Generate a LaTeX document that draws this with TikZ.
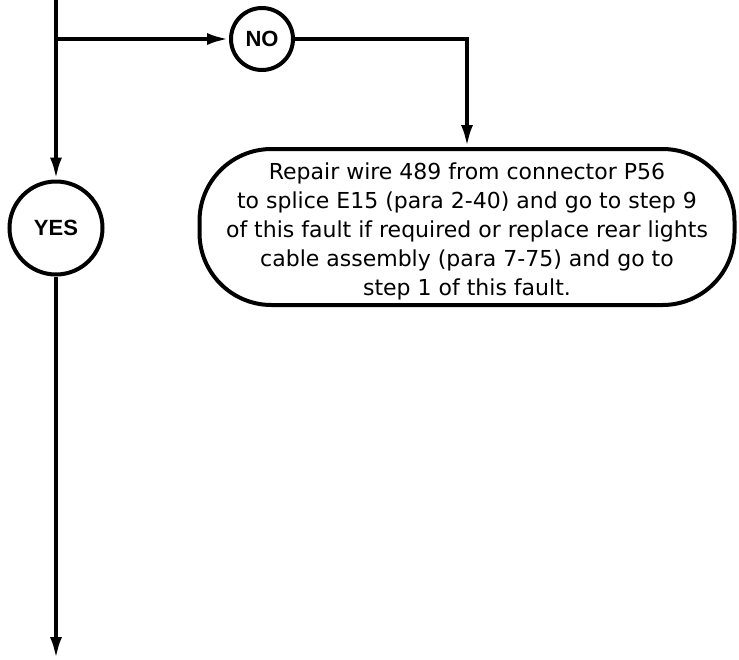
\documentclass[tikz,border=0pt]{standalone}
\usepackage{fontspec}
\setmainfont{Liberation Sans}
\newfontfamily\stepfont{DejaVu Sans}
\usepackage{tikz}
\usetikzlibrary{positioning,arrows.meta,calc}

\begin{document}
\begin{tikzpicture}[x=1pt,y=-1pt,
  answer/.style={circle,draw,line width=4pt,inner sep=0pt,font=\fontsize{22}{24}\selectfont\bfseries},
  action/.style={rectangle,rounded corners=72pt,draw,line width=4pt,align=center,inner sep=0pt,
    minimum width=535pt,minimum height=156pt,font=\stepfont\fontsize{22}{29}\selectfont},
  flow/.style={line width=4pt,-{Latex[length=22pt,width=12pt]}}]
\useasboundingbox (0,0) rectangle (739,659);
% main line and branch points
\coordinate (top) at (56,0);
\coordinate (split) at (56,39);
\coordinate (bottom) at (56,659);
% answer circles
\node[answer,minimum size=62pt] (no) at (262,39) {NO};
\node[answer,minimum size=93pt] (yes) at (56,228) {YES};
% repair step
\node[action] (repair) at (467,227) {\rule{0pt}{25pt}Repair wire 489 from connector P56\\
to splice E15 (para 2-40) and go to step 9\\
of this fault if required or replace rear lights\\
cable assembly (para 7-75) and go to\\
step 1 of this fault.};
\coordinate (corner) at (repair.north |- no);
% connectors
\draw[flow] (top) -- (yes);
\draw[flow] (split) -- (no);
\draw[flow] (no) -- (corner) -- (repair);
\draw[flow] (yes) -- (bottom);
\end{tikzpicture}
\end{document}
